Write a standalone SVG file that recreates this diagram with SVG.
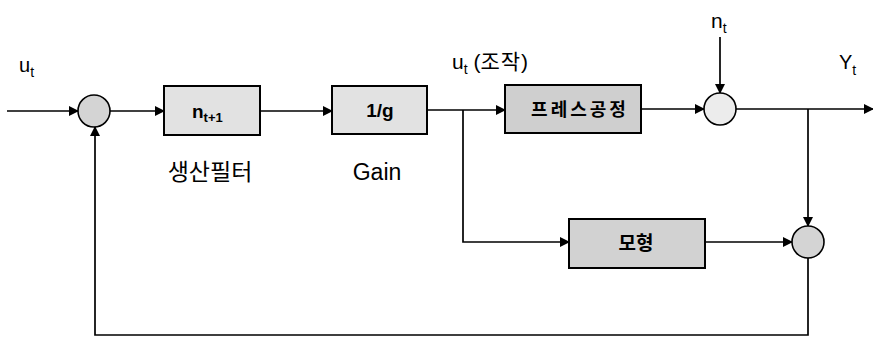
<svg xmlns="http://www.w3.org/2000/svg" width="873" height="337" viewBox="0 0 873 337">
<style>
.t{font-family:"Liberation Sans","Noto Sans CJK KR",sans-serif;fill:#000}
.k{font-family:"Noto Sans CJK KR","Liberation Sans",sans-serif;fill:#000}
.box{stroke:#000;stroke-width:2}
.c{fill:#d4d4d4;stroke:#000;stroke-width:1.6}
.ln{fill:none;stroke:#000;stroke-width:1.7}
</style>
<defs>
<marker id="a" markerWidth="10" markerHeight="10" refX="9" refY="5" orient="auto" markerUnits="userSpaceOnUse"><path d="M0,0 L10,5 L0,10 z" fill="#000"/></marker>
</defs>
<rect width="873" height="337" fill="#fff"/>
<g id="connectors">
<path class="ln" d="M7,111 H78" marker-end="url(#a)"/>
<path class="ln" d="M110,111 H164" marker-end="url(#a)"/>
<path class="ln" d="M260,111 H332" marker-end="url(#a)"/>
<path class="ln" d="M427,110 H505" marker-end="url(#a)"/>
<path class="ln" d="M641,109 H704" marker-end="url(#a)"/>
<path class="ln" d="M720,37 V93" marker-end="url(#a)"/>
<path class="ln" d="M736,109 H873" marker-end="url(#a)"/>
<path class="ln" d="M808,109 V226" marker-end="url(#a)"/>
<path class="ln" d="M463,110 V242 H569" marker-end="url(#a)"/>
<path class="ln" d="M705,242 H792" marker-end="url(#a)"/>
<path class="ln" d="M808,258 V335 H95 V127" marker-end="url(#a)"/>
</g>
<g id="sum1"><circle class="c" cx="94" cy="111" r="16"/></g>
<g id="sum2"><circle class="c" cx="720" cy="109" r="16" style="fill:#ececec"/></g>
<g id="sum3"><circle class="c" cx="808" cy="242" r="16"/></g>
<g id="filter">
<rect class="box" x="164" y="86" width="96" height="49" fill="#e2e2e2"/>
<text class="t" x="192" y="118" font-size="19" font-weight="bold">n<tspan font-size="13" dy="4">t+1</tspan></text>
<text class="k" x="210" y="180" font-size="23" text-anchor="middle">생산필터</text>
</g>
<g id="gain">
<rect class="box" x="332" y="86" width="95" height="48" fill="#e2e2e2"/>
<text class="t" x="380" y="117" font-size="19" font-weight="bold" text-anchor="middle">1/g</text>
<text class="t" x="377" y="180" font-size="23" text-anchor="middle">Gain</text>
</g>
<g id="process">
<rect class="box" x="505" y="85" width="136" height="48" fill="#cfcfcf"/>
<text class="k" x="580" y="116" font-size="18" font-weight="bold" text-anchor="middle" letter-spacing="3">프레스공정</text>
</g>
<g id="model">
<rect class="box" x="569" y="219" width="136" height="49" fill="#d2d2d2"/>
<text class="k" x="636" y="250" font-size="19" font-weight="bold" text-anchor="middle">모형</text>
</g>
<g id="labels">
<text class="t" x="19" y="72" font-size="20">u<tspan font-size="14" dy="5">t</tspan></text>
<text class="t" x="452" y="69" font-size="21">u<tspan font-size="14" dy="5">t</tspan><tspan dy="-5"> (</tspan><tspan class="k" font-family="Noto Sans CJK KR" letter-spacing="1">조작</tspan>)</text>
<text class="t" x="711" y="28" font-size="21">n<tspan font-size="14" dy="5">t</tspan></text>
<text class="t" x="839" y="69" font-size="20">Y<tspan font-size="14" dy="6">t</tspan></text>
</g>
</svg>
